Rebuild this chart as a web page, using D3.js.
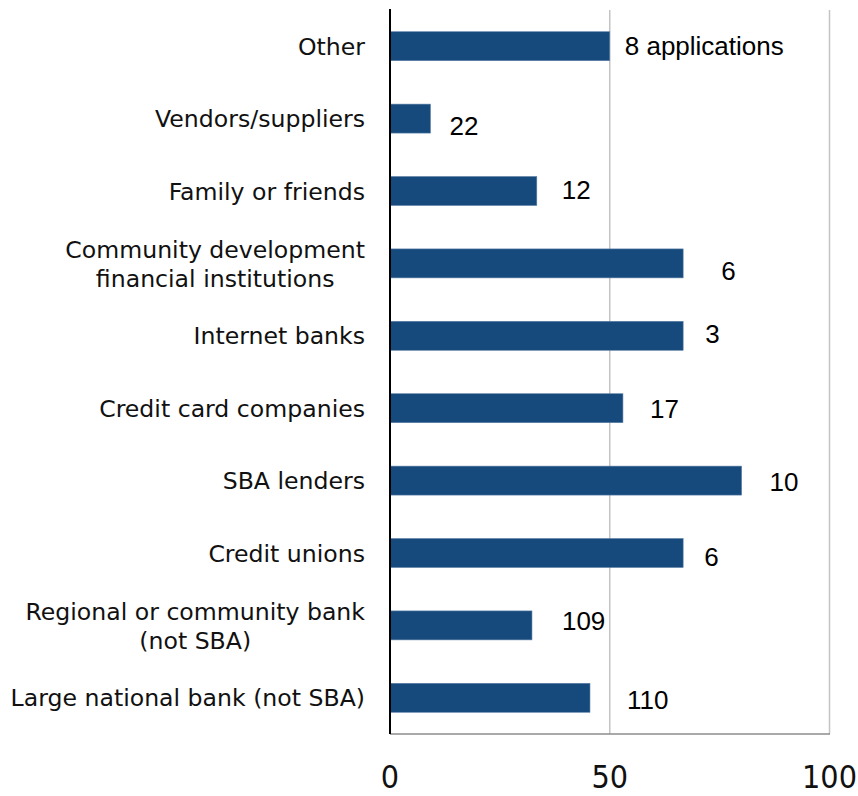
<!DOCTYPE html>
<html>
<head>
<meta charset="utf-8">
<script src="https://cdn.jsdelivr.net/npm/d3@7"></script>
<style>
  html, body { margin: 0; padding: 0; background: #ffffff; }
  svg { display: block; }
</style>
</head>
<body>
<svg id="chart" width="858" height="796"></svg>
<script>
// ---- data ----
const categories = [
  "Other",
  "Vendors/suppliers",
  "Family or friends",
  "Community development\nfinancial institutions",
  "Internet banks",
  "Credit card companies",
  "SBA lenders",
  "Credit unions",
  "Regional or community bank\n(not SBA)",
  "Large national bank (not SBA)"
];
const values = [50, 9.2, 33.4, 66.7, 66.7, 53, 80, 66.7, 32.3, 45.5];
const countLabels = ["8 applications", "22", "12", "6", "3", "17", "10", "6", "109", "110"];
const xTicks = [0, 50, 100];
// label nudges (style only): offset from bar end / bar centre
const labelDx = [15, 19, 25, 38, 22, 27, 28, 21, 30, 37];
const labelDy = [-1, 7, -1.5, 7, -2, 0, 1, 3.5, -5, 2];

// ---- layout ----
const plotLeft = 390, plotRight = 829.5, plotTop = 10, plotBottom = 734;
const svg = d3.select("#chart");

const x = d3.scaleLinear().domain([0, 100]).range([plotLeft, plotRight]);
const y = d3.scaleBand().domain(categories).range([plotTop, plotBottom])
  .paddingInner(0.6).paddingOuter(0.3);

// gridlines
svg.append("g").selectAll("line").data(xTicks.filter(d => d > 0)).join("line")
  .attr("x1", d => x(d)).attr("x2", d => x(d))
  .attr("y1", plotTop).attr("y2", plotBottom)
  .attr("stroke", "#c4c4c4").attr("stroke-width", 1.5);

// bottom axis line
svg.append("line")
  .attr("x1", plotLeft).attr("x2", plotRight + 0.5)
  .attr("y1", plotBottom).attr("y2", plotBottom)
  .attr("stroke", "#8c8c8c").attr("stroke-width", 1.5);

// bars
svg.append("g").selectAll("rect").data(categories).join("rect")
  .attr("x", plotLeft)
  .attr("y", d => y(d))
  .attr("width", (d, i) => x(values[i]) - x(0))
  .attr("height", y.bandwidth())
  .attr("fill", "#174a7c")
  .attr("stroke", "#5b7fa6").attr("stroke-width", 0.6);

// vertical axis line
svg.append("line")
  .attr("x1", plotLeft).attr("x2", plotLeft)
  .attr("y1", plotTop - 1).attr("y2", plotBottom)
  .attr("stroke", "#000").attr("stroke-width", 2);

// value labels
svg.append("g").selectAll("text").data(categories).join("text")
  .attr("x", (d, i) => x(values[i]) + labelDx[i])
  .attr("y", (d, i) => y(d) + y.bandwidth() / 2 + labelDy[i] + 9.3)
  .attr("font-family", "'Liberation Sans', Arial, sans-serif")
  .attr("font-size", 26)
  .attr("fill", "#000")
  .text((d, i) => countLabels[i]);

// category labels
const catG = svg.append("g")
  .attr("font-family", "'DejaVu Sans', sans-serif")
  .attr("font-size", 23.6)
  .attr("fill", "#111");
const labelRight = 365;
const lineGap = 29;
categories.forEach(cat => {
  const lines = cat.split("\n");
  const cy = y(cat) + y.bandwidth() / 2;
  const t = catG.append("text");
  const tspans = lines.map((ln, j) => t.append("tspan")
    .attr("y", cy + (j - (lines.length - 1) / 2) * lineGap + 8.6)
    .text(ln));
  if (lines.length === 1) {
    t.attr("text-anchor", "end");
    tspans[0].attr("x", labelRight);
  } else {
    const widths = tspans.map(s => s.node().getComputedTextLength());
    const cx = labelRight - Math.max(...widths) / 2;
    t.attr("text-anchor", "middle");
    tspans.forEach(s => s.attr("x", cx));
  }
});

// x tick labels
svg.append("g").selectAll("text").data(xTicks).join("text")
  .attr("x", d => x(d))
  .attr("y", 788)
  .attr("text-anchor", "middle")
  .attr("font-family", "'DejaVu Sans Condensed', 'DejaVu Sans', sans-serif")
  .attr("font-size", 32)
  .attr("fill", "#111")
  .text(d => d);
</script>
</body>
</html>
